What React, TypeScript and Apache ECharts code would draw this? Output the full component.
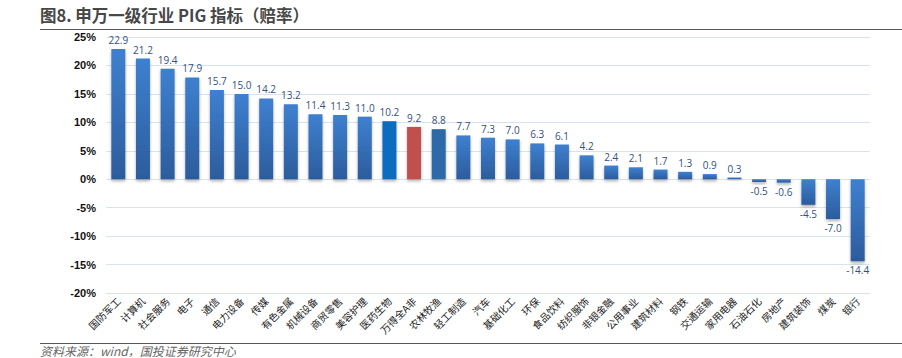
import React, { useEffect, useRef } from "react";
import * as echarts from "echarts";

const categories = [
  "国防军工", "计算机", "社会服务", "电子", "通信", "电力设备", "传媒", "有色金属",
  "机械设备", "商贸零售", "美容护理", "医药生物", "万得全A非", "农林牧渔", "轻工制造",
  "汽车", "基础化工", "环保", "食品饮料", "纺织服饰", "非银金融", "公用事业", "建筑材料",
  "钢铁", "交通运输", "家用电器", "石油石化", "房地产", "建筑装饰", "煤炭", "银行",
];
const values = [
  22.9, 21.2, 19.4, 17.9, 15.7, 15.0, 14.2, 13.2, 11.4, 11.3, 11.0, 10.2, 9.2, 8.8, 7.7,
  7.3, 7.0, 6.3, 6.1, 4.2, 2.4, 2.1, 1.7, 1.3, 0.9, 0.3, -0.5, -0.6, -4.5, -7.0, -14.4,
];
const yTicks = { min: -20, max: 25, interval: 5 };
const title = "图8. 申万一级行业 PIG 指标（赔率）";
const source = "资料来源：wind，国投证券研究中心";

const defaultGrad = () =>
  new echarts.graphic.LinearGradient(0, 0, 0, 1, [
    { offset: 0, color: "#3e80d0" },
    { offset: 1, color: "#2c5c9c" },
  ]);
const specialColors: Record<string, string> = {
  "医药生物": "#0e6cc0",
  "万得全A非": "#c0504d",
  "农林牧渔": "#2d6aa8",
};

export default function App() {
  const ref = useRef<HTMLDivElement>(null);
  useEffect(() => {
    const chart = echarts.init(ref.current!, undefined, { renderer: "svg" });
    chart.setOption({
      animation: false,
      backgroundColor: "#ffffff",
      graphic: [
        {
          type: "text",
          left: 40,
          top: 7,
          style: {
            text: title,
            font: "bold 16.5px 'Noto Sans CJK SC', sans-serif",
            fill: "#474747",
          },
        },
        {
          type: "line",
          shape: { x1: 40, y1: 29.5, x2: 902, y2: 29.5 },
          style: { stroke: "#555555", lineWidth: 1.2 },
        },
        {
          type: "line",
          shape: { x1: 40, y1: 343.5, x2: 902, y2: 343.5 },
          style: { stroke: "#555555", lineWidth: 1 },
        },
        {
          type: "text",
          left: 40,
          top: 344,
          style: {
            text: source,
            font: "italic 12px 'Noto Sans CJK SC', sans-serif",
            fill: "#666666",
          },
        },
      ],
      grid: { left: 106, right: 32, top: 37, bottom: 65 },
      xAxis: {
        type: "category",
        data: categories,
        axisLine: { show: false, onZero: false },
        axisTick: { show: false },
        axisLabel: {
          rotate: 45,
          interval: 0,
          margin: 6,
          fontSize: 10,
          color: "#222",
          fontFamily: "'Noto Sans CJK SC', sans-serif",
        },
      },
      yAxis: {
        type: "value",
        min: yTicks.min,
        max: yTicks.max,
        interval: yTicks.interval,
        axisLine: { show: false },
        axisTick: { show: false },
        axisLabel: {
          formatter: (v: number) => `${v}%`,
          fontSize: 11,
          fontWeight: "bold",
          color: "#111",
          margin: 10,
          fontFamily: "'Liberation Sans', sans-serif",
        },
        splitLine: { lineStyle: { color: "#d9e2ef", width: 1 } },
      },
      series: [
        {
          type: "bar",
          barWidth: 14,
          data: values.map((v, i) => ({
            value: v,
            itemStyle: {
              color: specialColors[categories[i]] || defaultGrad(),
              shadowColor: "rgba(0,0,0,0.3)",
              shadowBlur: 3,
              shadowOffsetY: 2,
            },
            label: { position: v >= 0 ? "top" : "bottom" },
          })),
          label: {
            show: true,
            formatter: (p: any) => Number(p.value).toFixed(1),
            fontSize: 10,
            color: "#34507e",
            distance: 4,
            fontFamily: "'Open Sans', sans-serif",
          },
        },
      ],
    });
    return () => chart.dispose();
  }, []);
  return (
    <div
      ref={ref}
      style={{ position: "fixed", left: 0, top: 0, width: 902, height: 358 }}
    />
  );
}
